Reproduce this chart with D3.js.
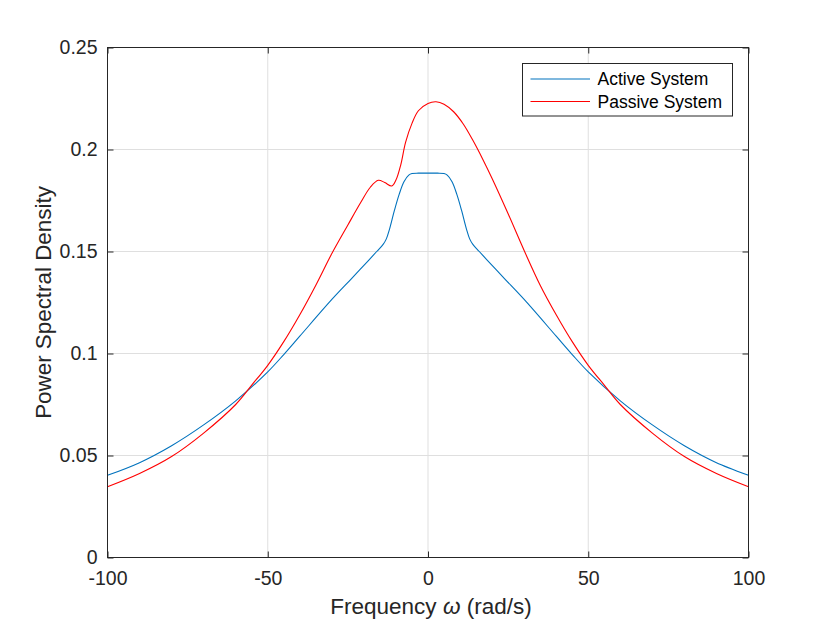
<!DOCTYPE html>
<html>
<head>
<meta charset="utf-8">
<script src="https://cdn.jsdelivr.net/npm/d3@7"></script>
<style>
  body { margin: 0; background: #fff; }
  svg text { font-family: "Liberation Sans", Arial, Helvetica, sans-serif; fill: #262626; }
</style>
</head>
<body>
<svg id="psd" width="826" height="626"></svg>
<script>
// frequency samples (rad/s) and the two spectra
var omega_active = [-100, -90, -80, -70, -60, -50, -45, -40, -30, -24, -20, -16, -14, -13,
    -12, -10.5, -9, -7.5, -6, -5, -3, 0, 3, 5, 6, 7.5, 9, 10.5, 12, 13, 14, 16,
    20, 24, 30, 40, 45, 50, 60, 70, 80, 90, 100];
var active = [0.0403, 0.0465, 0.0548, 0.0650, 0.0768, 0.0910, 0.0995, 0.1085, 0.1265, 0.1365, 0.1432, 0.1500, 0.1535, 0.1562,
    0.1610, 0.1700, 0.1780, 0.1842, 0.1874, 0.1882, 0.1884, 0.1884, 0.1884, 0.1882, 0.1874, 0.1842, 0.1780, 0.1700, 0.1610, 0.1562, 0.1535, 0.1500,
    0.1432, 0.1365, 0.1265, 0.1085, 0.0995, 0.0910, 0.0768, 0.0650, 0.0548, 0.0465, 0.0403];

var omega_passive = [-100, -90, -80, -70, -60, -55, -50, -45, -40, -35, -30, -25, -21, -18, -15.5,
    -13.5, -11.3, -10, -8.5, -7, -5, -3, 0, 2.5, 5, 8, 11, 14, 17, 20, 25, 30, 35,
    40, 45, 50, 55, 60, 70, 80, 90, 100];
var passive = [0.0347, 0.0412, 0.0495, 0.0610, 0.0750, 0.0845, 0.0942, 0.1058, 0.1190, 0.1335, 0.1490, 0.1630, 0.1740, 0.1815, 0.1849,
    0.1838, 0.1821, 0.1850, 0.1925, 0.2035, 0.2128, 0.2190, 0.2226, 0.2234, 0.2222, 0.2185, 0.2125, 0.2045, 0.1955, 0.1858, 0.1685, 0.1505, 0.1335,
    0.1190, 0.1058, 0.0942, 0.0845, 0.0750, 0.0610, 0.0495, 0.0412, 0.0347];

var x_ticks = [-100, -50, 0, 50, 100];
var y_ticks = [0, 0.05, 0.1, 0.15, 0.2, 0.25];
var series_names = ["Active System", "Passive System"];
var series_colors = ["#0072BD", "#FF0000"];

var svg = d3.select("#psd");
var margin = {top: 47.5, right: 77.5, bottom: 68.5, left: 107.5},
    width  = 826 - margin.left - margin.right,
    height = 626 - margin.top - margin.bottom;

var x = d3.scaleLinear().domain([-100, 100]).range([0, width]),
    y = d3.scaleLinear().domain([0, 0.25]).range([height, 0]);

var g = svg.append("g").attr("transform", `translate(${margin.left}, ${margin.top})`);

// grid
g.selectAll(".xgrid").data(x_ticks).enter().append("line")
    .attr("x1", d => x(d)).attr("x2", d => x(d))
    .attr("y1", 0).attr("y2", height)
    .style("stroke", "#dfdfdf").style("stroke-width", 1);
g.selectAll(".ygrid").data(y_ticks).enter().append("line")
    .attr("x1", 0).attr("x2", width)
    .attr("y1", d => y(d)).attr("y2", d => y(d))
    .style("stroke", "#dfdfdf").style("stroke-width", 1);

// curves
var line = d3.line().curve(d3.curveCatmullRom.alpha(0.5));
var lines = [
    d3.zip(omega_active, active),
    d3.zip(omega_passive, passive)
];
lines.forEach(function(pts, i) {
    g.append("path")
        .attr("d", line(pts.map(p => [x(p[0]), y(p[1])])))
        .style("fill", "none")
        .style("stroke", series_colors[i])
        .style("stroke-width", 1.1);
});

// axes (MATLAB style: inward ticks, box)
var tick_len = 6;
g.append("g")
    .attr("transform", `translate(0, ${height})`)
    .call(d3.axisBottom(x).tickValues(x_ticks).tickSize(-tick_len).tickPadding(14).tickFormat(d => String(d)))
    .call(a => a.select(".domain").remove());
g.append("g")
    .call(d3.axisTop(x).tickValues(x_ticks).tickSize(-tick_len).tickFormat(""))
    .call(a => a.select(".domain").remove());
g.append("g")
    .call(d3.axisLeft(y).tickValues(y_ticks).tickSize(-tick_len).tickPadding(10).tickFormat(d => String(d)))
    .call(a => a.select(".domain").remove());
g.append("g")
    .attr("transform", `translate(${width}, 0)`)
    .call(d3.axisRight(y).tickValues(y_ticks).tickSize(-tick_len).tickFormat(""))
    .call(a => a.select(".domain").remove());

g.selectAll(".tick line").style("stroke", "#262626");
g.selectAll(".tick text").style("font-size", "19.5px").style("fill", "#262626");

g.append("rect")
    .attr("width", width).attr("height", height)
    .style("fill", "none").style("stroke", "#262626").style("stroke-width", 1);

// labels
var xl = svg.append("text")
    .attr("x", margin.left + width / 2 + 3)
    .attr("y", 614)
    .style("text-anchor", "middle")
    .style("font-size", "22.5px");
xl.append("tspan").text("Frequency ");
xl.append("tspan").style("font-style", "italic").text("ω");
xl.append("tspan").text(" (rad/s)");

svg.append("text")
    .attr("transform", `translate(51, ${margin.top + height / 2}) rotate(-90)`)
    .style("text-anchor", "middle")
    .style("font-size", "22.4px")
    .text("Power Spectral Density");

// legend
var legend = svg.append("g").attr("transform", "translate(522.5, 63.5)");
legend.append("rect")
    .attr("width", 210).attr("height", 52.5)
    .style("fill", "#fff").style("stroke", "#262626").style("stroke-width", 1);
series_names.forEach(function(name, i) {
    var cy = 15.5 + i * 22.5;
    legend.append("line")
        .attr("x1", 8).attr("x2", 67.5)
        .attr("y1", cy).attr("y2", cy)
        .style("stroke", series_colors[i]).style("stroke-width", 1.1);
    legend.append("text")
        .attr("x", 75).attr("y", cy + 6)
        .style("font-size", "17.5px")
        .style("fill", "#000")
        .text(name);
});
</script>
</body>
</html>
